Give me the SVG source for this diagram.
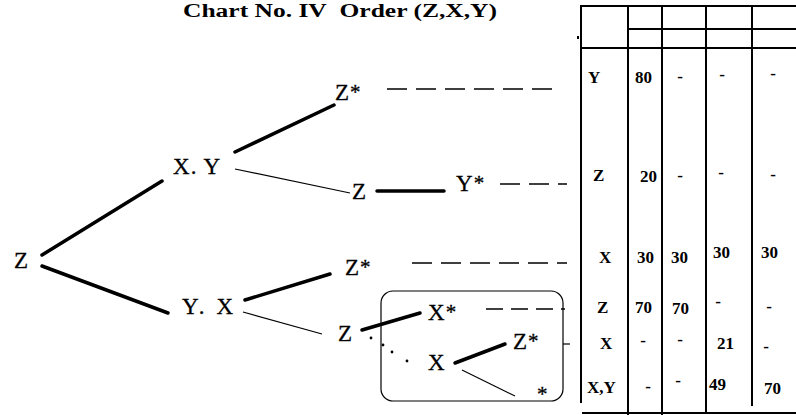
<svg xmlns="http://www.w3.org/2000/svg" width="796" height="415" viewBox="0 0 796 415">
<style>
.t{font-family:"Liberation Serif","Times New Roman",serif;font-size:23px;fill:#000;stroke:#000;stroke-width:0.3}
.s{font-size:21px}
.b{font-family:"Liberation Serif","Times New Roman",serif;font-weight:bold;font-size:17px;fill:#000}
.m{text-anchor:middle}
.thick{stroke:#000;stroke-width:3.5;stroke-linecap:round;fill:none}
.thin{stroke:#000;stroke-width:1.2;fill:none}
.dash{stroke:#000;stroke-width:1.3;stroke-dasharray:20 9;fill:none}
.grid{stroke:#000;stroke-width:2;fill:none}
</style>
<rect width="796" height="415" fill="#fff"/>
<text id="title" x="183" y="17" class="t" style="font-weight:bold;font-size:18px;stroke:none" textLength="314" lengthAdjust="spacingAndGlyphs">Chart No. IV&#160;&#160;Order (Z,X,Y)</text>

<g id="connectors">
<line class="thick" x1="42" y1="255" x2="162" y2="181"/>
<line class="thick" x1="42" y1="266" x2="168" y2="313"/>
<line class="thick" x1="235" y1="152" x2="334" y2="105"/>
<line class="thin" x1="235" y1="169" x2="350" y2="193"/>
<line class="thick" x1="377" y1="191" x2="444" y2="191"/>
<line class="thick" x1="245" y1="300" x2="330" y2="274"/>
<line class="thin" x1="243" y1="312" x2="322" y2="334"/>
<line class="thick" x1="362" y1="330" x2="420" y2="313"/>
<circle cx="371" cy="338" r="1.4"/>
<circle cx="383" cy="345" r="1.4"/>
<circle cx="392" cy="352" r="1.4"/>
<circle cx="407" cy="361" r="1.4"/>
<line class="thick" x1="455" y1="363" x2="505" y2="344"/>
<line class="thin" x1="462" y1="370" x2="515" y2="396"/>
<line class="dash" x1="387" y1="89" x2="557" y2="89"/>
<line class="dash" x1="500" y1="184" x2="567" y2="184"/>
<line class="dash" x1="412" y1="263" x2="567" y2="263"/>
<line class="dash" x1="486" y1="309" x2="565" y2="309" style="stroke-dasharray:17 8"/>
<line class="thin" x1="563" y1="344" x2="570" y2="344"/>
</g>

<rect id="box" x="381" y="291" width="182" height="110" rx="12" class="thin"/>

<g id="n-z"><text x="14" y="268" class="t">Z</text></g>
<g id="n-xy"><text x="173" y="174" class="t" textLength="47">X. Y</text></g>
<g id="n-zstar1"><text x="335" y="100" class="t">Z<tspan class="s" dx="1" dy="-1">*</tspan></text></g>
<g id="n-z2"><text x="352" y="199" class="t">Z</text></g>
<g id="n-ystar"><text x="456" y="191" class="t">Y<tspan class="s" dx="1" dy="-1">*</tspan></text></g>
<g id="n-yx"><text x="182" y="314" class="t" textLength="51">Y. X</text></g>
<g id="n-zstar2"><text x="345" y="275" class="t">Z<tspan class="s" dx="1" dy="-1">*</tspan></text></g>
<g id="n-z3"><text x="338" y="341" class="t">Z</text></g>
<g id="n-xstar"><text x="428" y="320" class="t">X<tspan class="s" dx="1" dy="-1">*</tspan></text></g>
<g id="n-x"><text x="428" y="370" class="t">X</text></g>
<g id="n-zstar3"><text x="513" y="349" class="t">Z<tspan class="s" dx="1" dy="-1">*</tspan></text></g>
<g id="n-star"><text x="537" y="401" class="t s">*</text></g>

<g id="table">
<line class="grid" x1="581" y1="5" x2="581" y2="403"/>
<line class="grid" x1="628" y1="5" x2="628" y2="415"/>
<line class="grid" x1="662" y1="7" x2="662" y2="415"/>
<line class="grid" x1="706" y1="7" x2="706" y2="412"/>
<line class="grid" x1="752" y1="7" x2="752" y2="406"/>
<line class="grid" x1="581" y1="6" x2="796" y2="6"/>
<line class="grid" x1="628" y1="29" x2="796" y2="29"/>
<line class="grid" x1="581" y1="48" x2="796" y2="48"/>
<line class="grid" x1="582" y1="413" x2="796" y2="413"/>
<rect x="577" y="36" width="2" height="3" fill="#000"/>

<text x="588" y="83" class="b">Y</text>
<text x="635" y="83" class="b">80</text>
<text x="680" y="82" class="b m">-</text>
<text x="722" y="80" class="b m">-</text>
<text x="773" y="79" class="b m">-</text>

<text x="593" y="181" class="b">Z</text>
<text x="640" y="182" class="b">20</text>
<text x="680" y="181" class="b m">-</text>
<text x="721" y="178" class="b m">-</text>
<text x="773" y="180" class="b m">-</text>

<text x="599" y="263" class="b">X</text>
<text x="637" y="263" class="b">30</text>
<text x="671" y="263" class="b">30</text>
<text x="713" y="258" class="b">30</text>
<text x="761" y="258" class="b">30</text>

<text x="597" y="313" class="b">Z</text>
<text x="635" y="313" class="b">70</text>
<text x="672" y="314" class="b">70</text>
<text x="718" y="307" class="b m">-</text>
<text x="769" y="312" class="b m">-</text>

<text x="600" y="349" class="b">X</text>
<text x="643" y="346" class="b m">-</text>
<text x="680" y="345" class="b m">-</text>
<text x="717" y="349" class="b">21</text>
<text x="766" y="352" class="b m">-</text>

<text x="587" y="393" class="b">X,Y</text>
<text x="648" y="392" class="b m">-</text>
<text x="678" y="386" class="b m">-</text>
<text x="709" y="390" class="b">49</text>
<text x="764" y="394" class="b">70</text>
</g>
</svg>
